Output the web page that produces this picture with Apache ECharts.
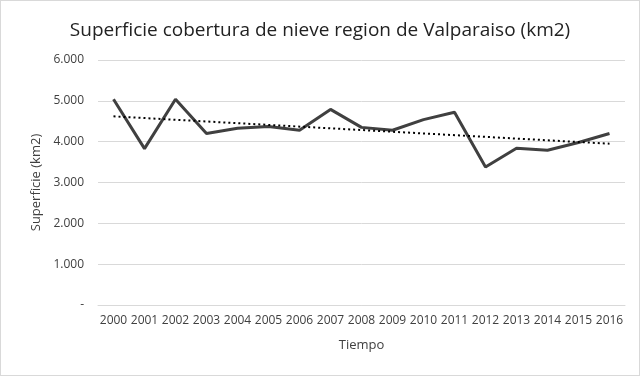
<!DOCTYPE html>
<html>
<head>
<meta charset="utf-8">
<script src="https://cdn.jsdelivr.net/npm/echarts@6/dist/echarts.min.js"></script>
<style>
  html, body { margin: 0; padding: 0; background: #fff; }
  #chart { width: 638px; height: 374px; border: 1px solid #d9d9d9; }
</style>
</head>
<body>
<div id="chart"></div>
<script>
// Years on the x axis
const years = ['2000', '2001', '2002', '2003', '2004', '2005', '2006', '2007', '2008',
  '2009', '2010', '2011', '2012', '2013', '2014', '2015', '2016'];

// Snow cover surface, km2
const surface = [5040, 3830, 5040, 4200, 4330, 4370, 4280, 4790, 4350,
  4280, 4540, 4720, 3380, 3840, 3790, 3980, 4200];

// Linear trend line endpoints (first and last year)
const trendEnds = [4620, 3950];

const trendData = years.map((y, i) =>
  i === 0 ? trendEnds[0] : (i === years.length - 1 ? trendEnds[1] : null));

const chart = echarts.init(document.getElementById('chart'));
const font = '"Open Sans", sans-serif';

chart.setOption({
  backgroundColor: '#fff',
  animation: false,
  title: {
    text: 'Superficie cobertura de nieve region de Valparaiso (km2)',
    left: 'center',
    top: 15,
    textStyle: { fontFamily: font, fontSize: 19, fontWeight: 'normal', color: '#222' }
  },
  grid: { left: 97, right: 14, top: 59, bottom: 70 },
  xAxis: {
    type: 'category',
    data: years,
    boundaryGap: true,
    name: 'Tiempo',
    nameLocation: 'middle',
    nameGap: 34,
    nameTextStyle: { fontFamily: font, fontSize: 13, color: '#404040' },
    axisLine: { show: true, lineStyle: { color: '#d9d9d9' } },
    axisTick: { show: false },
    axisLabel: { fontFamily: font, fontSize: 12, color: '#404040', margin: 10, interval: 0 }
  },
  yAxis: {
    type: 'value',
    min: 0,
    max: 6000,
    interval: 1000,
    name: 'Superficie (km2)',
    nameLocation: 'middle',
    nameGap: 55,
    nameTextStyle: { fontFamily: font, fontSize: 13, color: '#404040' },
    axisLine: { show: false },
    axisTick: { show: false },
    axisLabel: {
      fontFamily: font, fontSize: 12, color: '#404040', margin: 14,
      formatter: v => v === 0 ? '-' : (v / 1000).toFixed(3)
    },
    splitLine: { lineStyle: { color: '#d9d9d9', width: 1 } }
  },
  series: [
    {
      type: 'line',
      data: surface,
      symbol: 'none',
      lineStyle: { color: '#404040', width: 3 }
    },
    {
      type: 'line',
      data: trendData,
      connectNulls: true,
      symbol: 'none',
      lineStyle: { color: '#000', width: 2, type: [2, 3] }
    }
  ]
});
</script>
</body>
</html>
